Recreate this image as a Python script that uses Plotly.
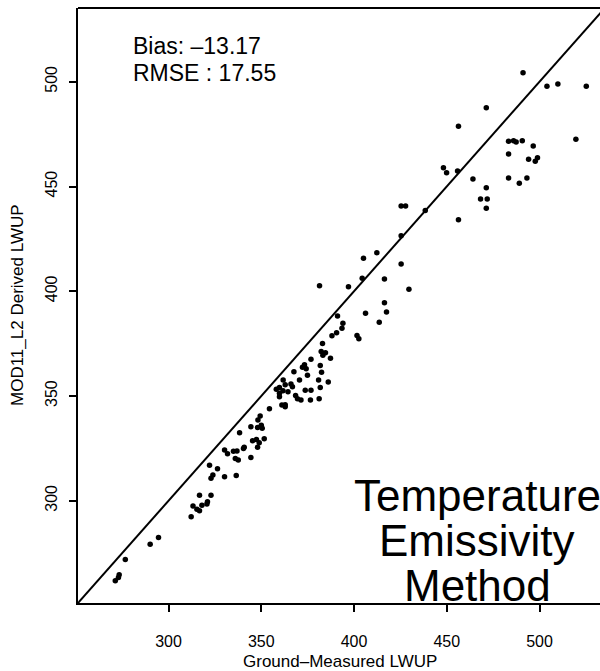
import plotly.graph_objects as go

# Data (ground-measured vs MOD11_L2 derived LWUP)
ground = [491.1, 504.0, 509.9, 525.2, 471.3, 456.3, 519.6, 483.3, 486.0, 487.4,
          490.7, 496.6, 483.3, 494.1, 497.7, 498.9, 448.2, 449.9, 455.8, 464.1,
          483.3, 493.2, 489.1, 471.3, 468.2, 471.8, 471.3, 456.3, 425.4, 427.8,
          438.4, 425.4, 412.3, 405.1, 404.4, 425.4, 416.4, 397.0, 429.6, 416.4,
          406.2, 417.5, 381.4, 413.6, 391.1, 394.0, 393.5, 390.6, 388.1, 401.6,
          402.6, 383.0, 382.3, 384.6, 383.2, 387.3, 376.8, 381.8, 373.3, 372.2,
          374.2, 367.6, 382.5, 374.9, 370.6, 380.9, 386.1, 381.8, 361.8, 366.0,
          366.8, 362.9, 359.8, 358.1, 361.7, 364.4, 359.8, 368.5, 369.5, 373.7,
          376.8, 371.4, 376.5, 381.2, 361.1, 362.9, 362.9, 354.4, 359.8, 349.4,
          348.2, 350.0, 350.5, 348.0, 344.4, 338.3, 345.3, 347.4, 348.9, 351.6,
          348.0, 340.8, 330.2, 331.8, 335.0, 336.9, 336.0, 337.6, 340.4, 344.4,
          322.1, 326.4, 323.9, 322.9, 330.2, 336.5, 316.7, 322.9, 313.2, 315.3,
          316.7, 318.0, 320.7, 321.0, 312.2, 294.6, 290.1, 276.7, 273.4, 273.0,
          271.3]
derived = [504.3, 497.9, 498.9, 497.9, 487.6, 478.7, 472.5, 471.6, 471.8, 471.2,
           471.8, 469.3, 465.5, 463.0, 462.0, 463.7, 458.9, 456.6, 457.4, 453.6,
           454.0, 454.0, 451.6, 449.4, 444.0, 444.0, 439.6, 434.1, 440.7, 440.7,
           438.6, 426.5, 418.4, 415.7, 406.2, 413.0, 405.8, 402.1, 400.9, 394.5,
           389.5, 390.1, 402.6, 385.2, 388.2, 384.7, 382.4, 380.2, 378.8, 378.9,
           377.3, 375.1, 371.3, 370.6, 369.4, 368.0, 367.5, 364.6, 364.9, 363.7,
           363.0, 361.6, 361.3, 359.9, 357.6, 357.6, 356.7, 354.1, 357.6, 355.7,
           354.4, 355.4, 354.1, 353.2, 352.5, 352.0, 351.3, 350.3, 348.7, 352.8,
           352.8, 348.1, 348.1, 348.7, 345.7, 345.8, 344.9, 343.9, 349.6, 340.4,
           338.5, 336.0, 334.6, 335.0, 335.3, 332.5, 328.6, 329.3, 327.7, 329.6,
           325.5, 325.5, 324.2, 322.4, 323.6, 323.7, 320.2, 319.4, 325.0, 320.7,
           317.0, 315.3, 312.3, 310.7, 311.5, 312.1, 302.6, 302.6, 297.5, 295.9,
           295.2, 297.8, 298.4, 299.5, 292.4, 282.5, 279.3, 272.0, 264.7, 263.4,
           261.8]

tick_vals = [300, 350, 400, 450, 500]
one_to_one = [250, 560]
stats_lines = ["Bias: \u201313.17", "RMSE : 17.55"]
method_lines = ["Temperature", "Emissivity", "Method"]
x_title = "Ground\u2013Measured LWUP"
y_title = "MOD11_L2 Derived LWUP"

W, H = 600, 671
L, R, T, B = 78, 0, 8, 68
pw, ph = W - L - R, H - T - B


def px(x):
    return (x - L) / pw


def py(y):
    return (H - B - y) / ph


FONT = "Liberation Sans, Arial, Helvetica, sans-serif"

fig = go.Figure()
fig.add_trace(go.Scatter(x=one_to_one, y=one_to_one, mode="lines",
                         line=dict(color="black", width=2), hoverinfo="skip",
                         showlegend=False))
fig.add_trace(go.Scatter(x=ground, y=derived, mode="markers",
                         marker=dict(color="black", size=5.5, line=dict(width=0)),
                         showlegend=False))

axis_common = dict(showgrid=False, zeroline=False, showline=True, linecolor="black",
                   linewidth=2, ticks="outside", ticklen=7, tickwidth=1.5,
                   tickcolor="black", tickvals=tick_vals,
                   tickfont=dict(family=FONT, size=16, color="black"))
fig.update_xaxes(range=[251.2, 532.6], ticklabelstandoff=16, **axis_common)
fig.update_yaxes(range=[251.2, 535.2], tickangle=-90, ticklabelstandoff=6, **axis_common)

fig.add_shape(type="line", xref="paper", yref="paper", x0=0, x1=1, y0=1, y1=1,
              line=dict(color="black", width=2))

annotations = []
for i, s in enumerate(stats_lines):
    annotations.append(dict(text=s, x=px(131), y=py(46 + i * 27), xref="paper", yref="paper",
                            xanchor="left", yanchor="middle", showarrow=False,
                            font=dict(family=FONT, size=23, color="black")))
for i, s in enumerate(method_lines):
    annotations.append(dict(text=s, x=px(477), y=py(495 + i * 45), xref="paper", yref="paper",
                            xanchor="center", yanchor="middle", showarrow=False,
                            font=dict(family=FONT, size=44, color="black")))
annotations.append(dict(text=x_title, x=px(340), y=py(661), xref="paper", yref="paper",
                        xanchor="center", yanchor="middle", showarrow=False,
                        font=dict(family=FONT, size=17, color="black")))
annotations.append(dict(text=y_title, x=px(17), y=py(305), xref="paper", yref="paper",
                        xanchor="center", yanchor="middle", textangle=-90, showarrow=False,
                        font=dict(family=FONT, size=17, color="black")))

fig.update_layout(width=W, height=H, margin=dict(l=L, r=R, t=T, b=B, autoexpand=False),
                  plot_bgcolor="white", paper_bgcolor="white",
                  annotations=annotations, hovermode=False)

fig.write_html("out.html")
